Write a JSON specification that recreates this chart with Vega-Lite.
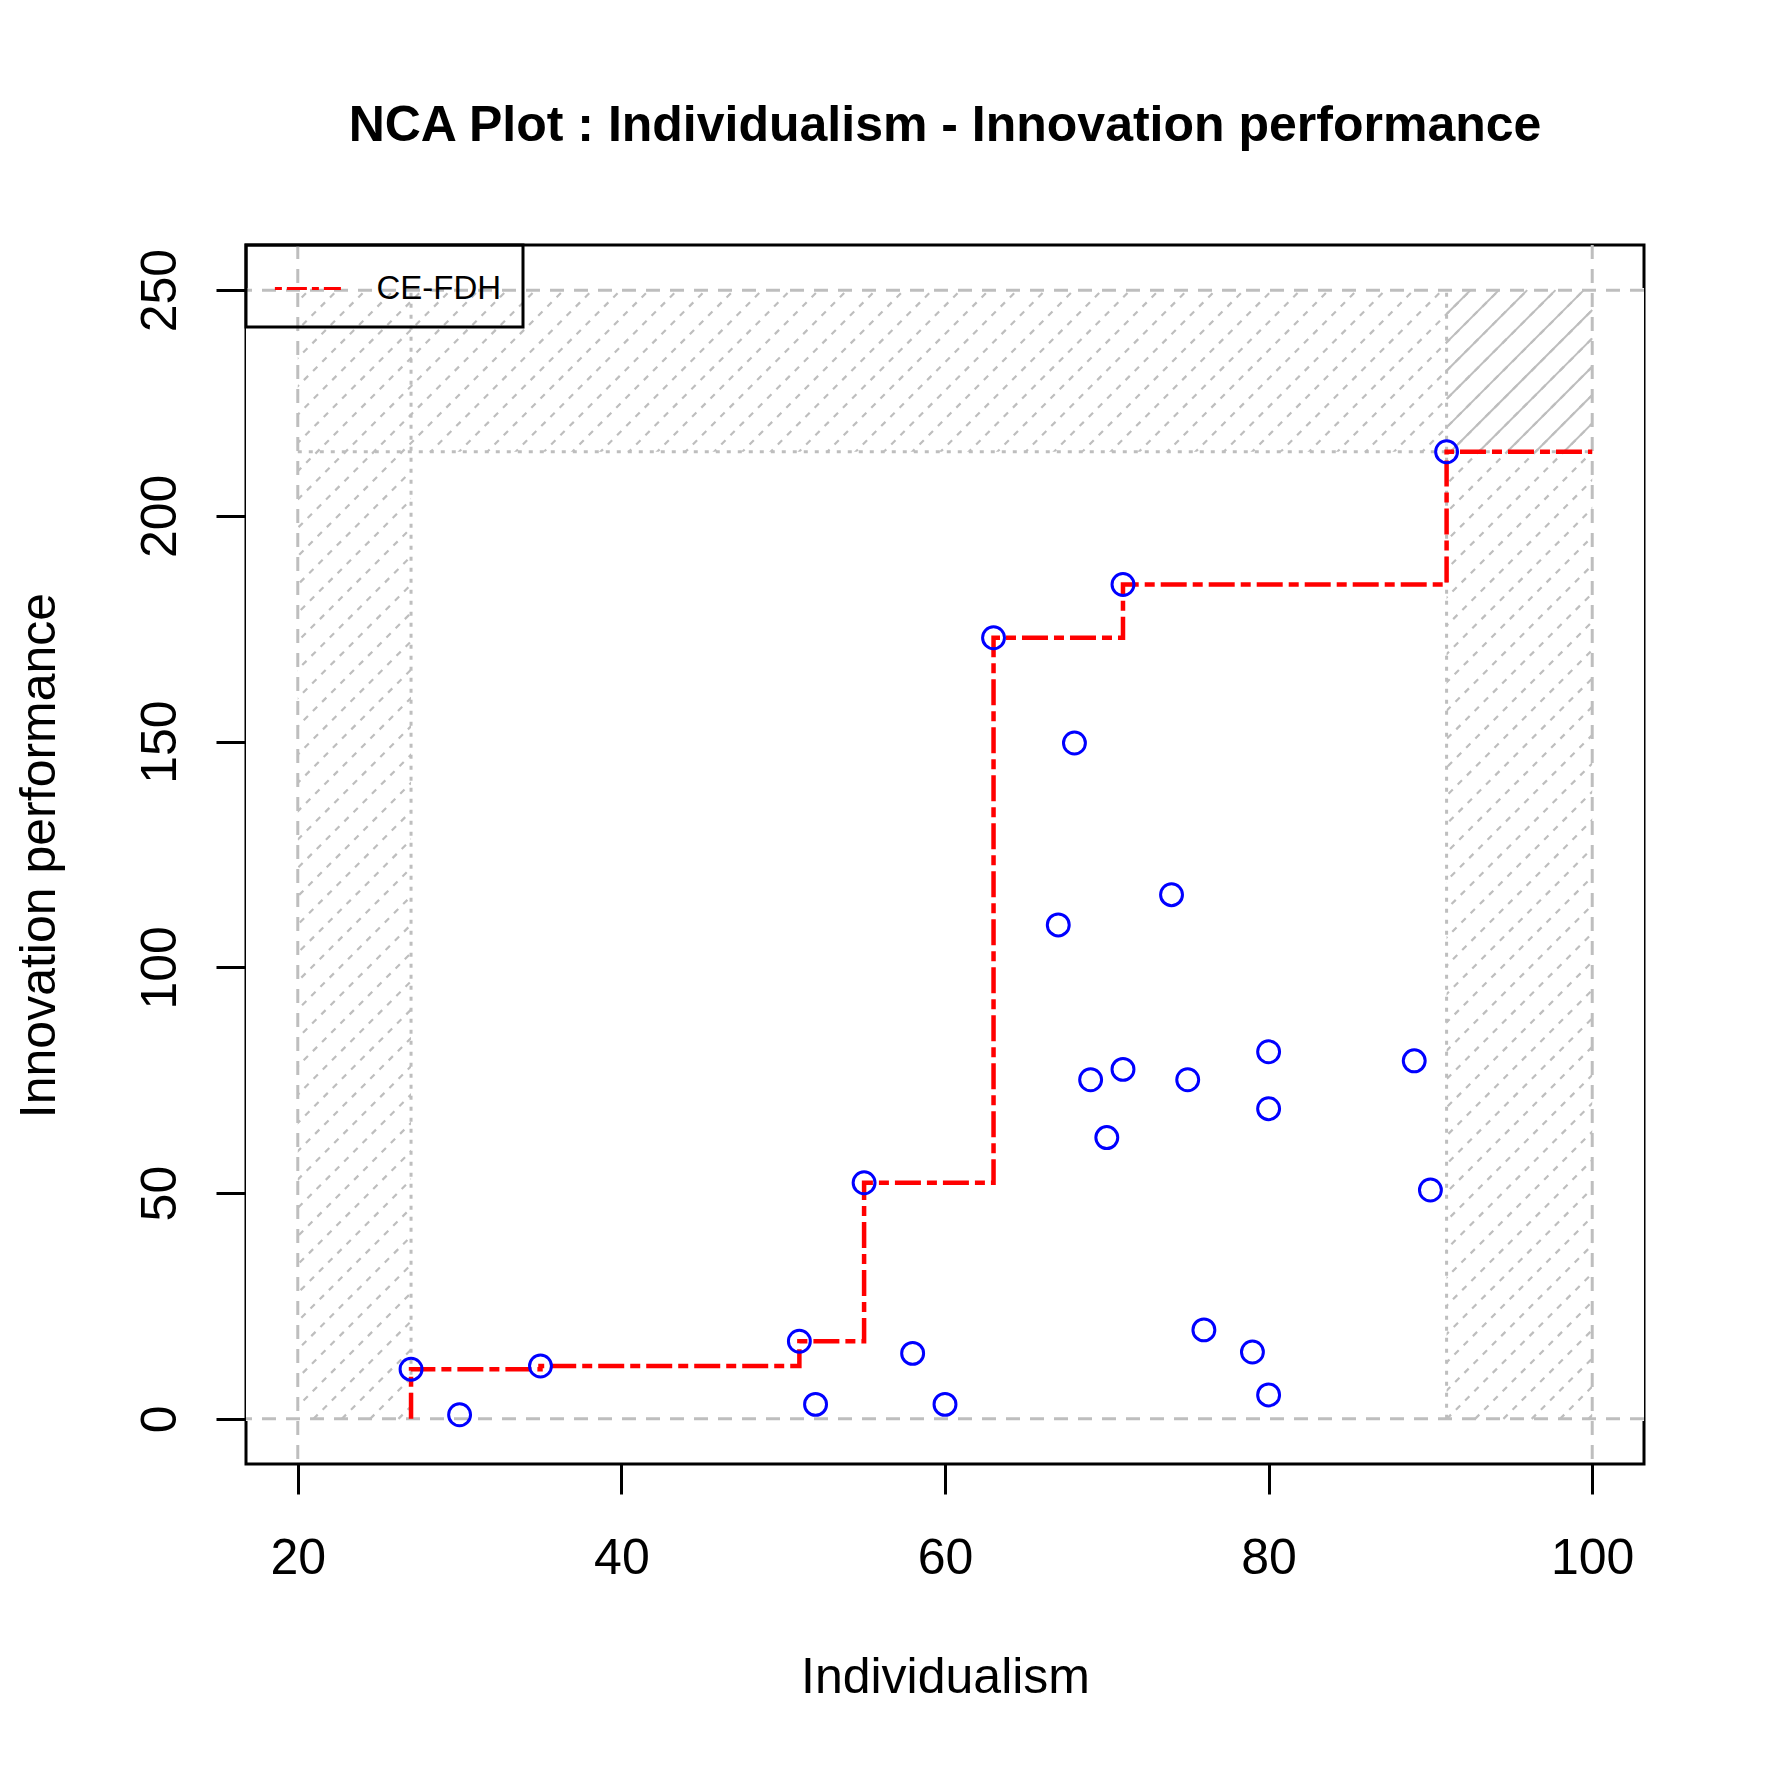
{
  "$schema": "https://vega.github.io/schema/vega-lite/v6.json",
  "width": 1398,
  "height": 1219,
  "autosize": "none",
  "padding": {"left": 246, "top": 245, "right": 127, "bottom": 307},
  "background": "white",
  "title": {
    "text": "NCA Plot : Individualism - Innovation performance",
    "anchor": "middle",
    "frame": "group",
    "font": "Liberation Sans",
    "fontSize": 50,
    "fontWeight": "bold",
    "color": "black",
    "baseline": "alphabetic",
    "offset": 53
  },
  "config": {
    "view": {"stroke": "black", "strokeWidth": 3},
    "font": "Liberation Sans"
  },
  "datasets": {
    "points": [
      {"x": 27, "y": 11}, {"x": 30, "y": 0.9}, {"x": 35, "y": 11.7}, {"x": 51, "y": 17.2},
      {"x": 52, "y": 3.2}, {"x": 55, "y": 52.3}, {"x": 58, "y": 14.5}, {"x": 60, "y": 3.2},
      {"x": 63, "y": 173}, {"x": 67, "y": 109.4}, {"x": 68, "y": 149.7}, {"x": 69, "y": 75.1},
      {"x": 70, "y": 62.3}, {"x": 71, "y": 184.8}, {"x": 71, "y": 77.4}, {"x": 74, "y": 116.1},
      {"x": 75, "y": 75.1}, {"x": 76, "y": 19.7}, {"x": 79, "y": 14.8}, {"x": 80, "y": 81.3},
      {"x": 80, "y": 68.7}, {"x": 80, "y": 5.3}, {"x": 89, "y": 79.3}, {"x": 90, "y": 50.7},
      {"x": 91, "y": 214.2}
    ],
    "ceiling": [
      {"step": 1, "x": 27, "y": 0}, {"step": 2, "x": 27, "y": 11}, {"step": 3, "x": 35, "y": 11},
      {"step": 4, "x": 35, "y": 11.7}, {"step": 5, "x": 51, "y": 11.7}, {"step": 6, "x": 51, "y": 17.2},
      {"step": 7, "x": 55, "y": 17.2}, {"step": 8, "x": 55, "y": 52.3}, {"step": 9, "x": 63, "y": 52.3},
      {"step": 10, "x": 63, "y": 173}, {"step": 11, "x": 71, "y": 173}, {"step": 12, "x": 71, "y": 184.8},
      {"step": 13, "x": 91, "y": 184.8}, {"step": 14, "x": 91, "y": 214.2}, {"step": 15, "x": 100, "y": 214.2}
    ],
    "hatch": [
      {"x": -49.07, "x2": 20.69}, {"x": -47.32, "x2": 22.44}, {"x": -45.57, "x2": 24.19}, {"x": -43.82, "x2": 25.94},
      {"x": -42.07, "x2": 27.69}, {"x": -40.32, "x2": 29.44}, {"x": -38.56, "x2": 31.19}, {"x": -36.81, "x2": 32.94},
      {"x": -35.06, "x2": 34.69}, {"x": -33.31, "x2": 36.44}, {"x": -31.56, "x2": 38.2}, {"x": -29.81, "x2": 39.95},
      {"x": -28.06, "x2": 41.7}, {"x": -26.31, "x2": 43.45}, {"x": -24.56, "x2": 45.2}, {"x": -22.81, "x2": 46.95},
      {"x": -21.05, "x2": 48.7}, {"x": -19.3, "x2": 50.45}, {"x": -17.55, "x2": 52.2}, {"x": -15.8, "x2": 53.95},
      {"x": -14.05, "x2": 55.71}, {"x": -12.3, "x2": 57.46}, {"x": -10.55, "x2": 59.21}, {"x": -8.8, "x2": 60.96},
      {"x": -7.05, "x2": 62.71}, {"x": -5.3, "x2": 64.46}, {"x": -3.54, "x2": 66.21}, {"x": -1.79, "x2": 67.96},
      {"x": -0.04, "x2": 69.71}, {"x": 1.71, "x2": 71.46}, {"x": 3.46, "x2": 73.22}, {"x": 5.21, "x2": 74.97},
      {"x": 6.96, "x2": 76.72}, {"x": 8.71, "x2": 78.47}, {"x": 10.46, "x2": 80.22}, {"x": 12.22, "x2": 81.97},
      {"x": 13.97, "x2": 83.72}, {"x": 15.72, "x2": 85.47}, {"x": 17.47, "x2": 87.22}, {"x": 19.22, "x2": 88.97},
      {"x": 20.97, "x2": 90.73}, {"x": 22.72, "x2": 92.48}, {"x": 24.47, "x2": 94.23}, {"x": 26.22, "x2": 95.98},
      {"x": 27.97, "x2": 97.73}, {"x": 29.73, "x2": 99.48}, {"x": 31.48, "x2": 101.23}, {"x": 33.23, "x2": 102.98},
      {"x": 34.98, "x2": 104.73}, {"x": 36.73, "x2": 106.48}, {"x": 38.48, "x2": 108.24}, {"x": 40.23, "x2": 109.99},
      {"x": 41.98, "x2": 111.74}, {"x": 43.73, "x2": 113.49}, {"x": 45.48, "x2": 115.24}, {"x": 47.24, "x2": 116.99},
      {"x": 48.99, "x2": 118.74}, {"x": 50.74, "x2": 120.49}, {"x": 52.49, "x2": 122.24}, {"x": 54.24, "x2": 123.99},
      {"x": 55.99, "x2": 125.75}, {"x": 57.74, "x2": 127.5}, {"x": 59.49, "x2": 129.25}, {"x": 61.24, "x2": 131},
      {"x": 62.99, "x2": 132.75}, {"x": 64.75, "x2": 134.5}, {"x": 66.5, "x2": 136.25}, {"x": 68.25, "x2": 138},
      {"x": 70, "x2": 139.75}, {"x": 71.75, "x2": 141.5}, {"x": 73.5, "x2": 143.26}, {"x": 75.25, "x2": 145.01},
      {"x": 77, "x2": 146.76}, {"x": 78.75, "x2": 148.51}, {"x": 80.5, "x2": 150.26}, {"x": 82.26, "x2": 152.01},
      {"x": 84.01, "x2": 153.76}, {"x": 85.76, "x2": 155.51}, {"x": 87.51, "x2": 157.26}, {"x": 89.26, "x2": 159.01},
      {"x": 91.01, "x2": 160.77}, {"x": 92.76, "x2": 162.52}, {"x": 94.51, "x2": 164.27}, {"x": 96.26, "x2": 166.02},
      {"x": 98.01, "x2": 167.77}, {"x": 99.77, "x2": 169.52}
    ],
    "corner": [
      {"x": 91, "y": 244.71, "x2": 92.48, "y2": 250}, {"x": 91, "y": 238.43, "x2": 94.23, "y2": 250},
      {"x": 91, "y": 232.16, "x2": 95.98, "y2": 250}, {"x": 91, "y": 225.88, "x2": 97.73, "y2": 250},
      {"x": 91, "y": 219.61, "x2": 99.48, "y2": 250}, {"x": 91.24, "y": 214.2, "x2": 100, "y2": 245.59},
      {"x": 92.99, "y": 214.2, "x2": 100, "y2": 239.31}, {"x": 94.74, "y": 214.2, "x2": 100, "y2": 233.04},
      {"x": 96.5, "y": 214.2, "x2": 100, "y2": 226.76}, {"x": 98.25, "y": 214.2, "x2": 100, "y2": 220.49}
    ],
    "masks": [
      {"x": 16.8, "x2": 20, "y": -0.5, "y2": 250.5},
      {"x": 100, "x2": 103.2, "y": -0.5, "y2": 250.5},
      {"x": 27, "x2": 91, "y": -0.5, "y2": 214.2}
    ],
    "theoX": [{"x": 20}, {"x": 100}],
    "theoY": [{"y": 0}, {"y": 250}],
    "empirical": [
      {"x": 27, "y": 0, "x2": 27, "y2": 250},
      {"x": 91, "y": 0, "x2": 91, "y2": 250},
      {"x": 20, "y": 214.2, "x2": 100, "y2": 214.2}
    ]
  },
  "layer": [
    {
      "data": {"name": "hatch"},
      "mark": {"type": "rule", "clip": true, "color": "#BEBEBE", "strokeWidth": 2.2, "strokeDash": [6, 7]},
      "encoding": {
        "x": {"field": "x", "type": "quantitative", "scale": {"domain": [16.8, 103.2], "nice": false, "zero": false}},
        "x2": {"field": "x2"},
        "y": {"datum": 0, "type": "quantitative", "scale": {"domain": [-10, 260], "nice": false, "zero": false}},
        "y2": {"datum": 250}
      }
    },
    {
      "data": {"name": "masks"},
      "mark": {"type": "rect", "fill": "white", "strokeWidth": 0},
      "encoding": {
        "x": {"field": "x", "type": "quantitative", "scale": {"domain": [16.8, 103.2], "nice": false, "zero": false}},
        "x2": {"field": "x2"},
        "y": {"field": "y", "type": "quantitative", "scale": {"domain": [-10, 260], "nice": false, "zero": false}},
        "y2": {"field": "y2"}
      }
    },
    {
      "data": {"name": "corner"},
      "mark": {"type": "rule", "color": "#BEBEBE", "strokeWidth": 2},
      "encoding": {
        "x": {"field": "x", "type": "quantitative", "scale": {"domain": [16.8, 103.2], "nice": false, "zero": false}},
        "x2": {"field": "x2"},
        "y": {"field": "y", "type": "quantitative", "scale": {"domain": [-10, 260], "nice": false, "zero": false}},
        "y2": {"field": "y2"}
      }
    },
    {
      "data": {"name": "theoX"},
      "mark": {"type": "rule", "color": "#BEBEBE", "strokeWidth": 3, "strokeDash": [14, 10]},
      "encoding": {
        "x": {"field": "x", "type": "quantitative", "scale": {"domain": [16.8, 103.2], "nice": false, "zero": false}}
      }
    },
    {
      "data": {"name": "theoY"},
      "mark": {"type": "rule", "color": "#BEBEBE", "strokeWidth": 3, "strokeDash": [14, 10]},
      "encoding": {
        "y": {"field": "y", "type": "quantitative", "scale": {"domain": [-10, 260], "nice": false, "zero": false}}
      }
    },
    {
      "data": {"name": "empirical"},
      "mark": {"type": "rule", "color": "#BEBEBE", "strokeWidth": 3, "strokeDash": [4, 7]},
      "encoding": {
        "x": {"field": "x", "type": "quantitative", "scale": {"domain": [16.8, 103.2], "nice": false, "zero": false}},
        "x2": {"field": "x2"},
        "y": {"field": "y", "type": "quantitative", "scale": {"domain": [-10, 260], "nice": false, "zero": false}},
        "y2": {"field": "y2"}
      }
    },
    {
      "data": {"name": "ceiling"},
      "mark": {"type": "line", "strokeWidth": 4.5, "strokeDash": [26, 6, 10, 6]},
      "encoding": {
        "x": {"field": "x", "type": "quantitative", "scale": {"domain": [16.8, 103.2], "nice": false, "zero": false}},
        "y": {"field": "y", "type": "quantitative", "scale": {"domain": [-10, 260], "nice": false, "zero": false}},
        "order": {"field": "step", "type": "quantitative"},
        "color": {
          "datum": "CE-FDH",
          "type": "nominal",
          "scale": {"range": ["#FF0000"]},
          "legend": {
            "title": null,
            "orient": "none",
            "legendX": 0,
            "legendY": 0,
            "padding": 21,
            "strokeColor": "black",
            "symbolType": "M-1.6,0H1.6",
            "symbolSize": 1702,
            "symbolOffset": 18.4,
            "symbolStrokeWidth": 3,
            "symbolDash": [7, 5, 20, 5],
            "labelFont": "Liberation Sans",
            "labelFontSize": 33,
            "labelColor": "black",
            "labelOffset": 46,
            "encode": {
              "legend": {"update": {"strokeWidth": {"value": 3}}},
              "symbols": {"update": {"strokeDash": {"value": [7, 5, 20, 5]}, "strokeWidth": {"value": 3}}}
            }
          }
        }
      }
    },
    {
      "data": {"name": "points"},
      "mark": {"type": "point", "shape": "circle", "filled": false, "stroke": "#0000FF", "strokeWidth": 3, "size": 480, "opacity": 1},
      "encoding": {
        "x": {
          "field": "x",
          "type": "quantitative",
          "scale": {"domain": [16.8, 103.2], "nice": false, "zero": false},
          "axis": {
            "title": "Individualism",
            "values": [20, 40, 60, 80, 100],
            "domain": false,
            "grid": false,
            "tickColor": "black",
            "tickWidth": 3,
            "tickSize": 30,
            "labelFont": "Liberation Sans",
            "labelFontSize": 50,
            "labelColor": "black",
            "labelAlign": "center",
            "labelBaseline": "alphabetic",
            "labelPadding": 79,
            "labelFlush": false,
            "labelOverlap": false,
            "titleFont": "Liberation Sans",
            "titleFontSize": 50,
            "titleFontWeight": "normal",
            "titleColor": "black",
            "titleAlign": "center",
            "titleBaseline": "alphabetic",
            "titleX": 699,
            "titleY": 228
          }
        },
        "y": {
          "field": "y",
          "type": "quantitative",
          "scale": {"domain": [-10, 260], "nice": false, "zero": false},
          "axis": {
            "title": "Innovation performance",
            "values": [0, 50, 100, 150, 200, 250],
            "domain": false,
            "grid": false,
            "tickColor": "black",
            "tickWidth": 3,
            "tickSize": 30,
            "labelFont": "Liberation Sans",
            "labelFontSize": 50,
            "labelColor": "black",
            "labelAngle": 270,
            "labelAlign": "center",
            "labelBaseline": "alphabetic",
            "labelPadding": 41,
            "labelFlush": false,
            "labelOverlap": false,
            "titleFont": "Liberation Sans",
            "titleFontSize": 50,
            "titleFontWeight": "normal",
            "titleColor": "black",
            "titleAngle": 270,
            "titleAlign": "center",
            "titleBaseline": "alphabetic",
            "titleX": -192,
            "titleY": 610
          }
        }
      }
    }
  ]
}
